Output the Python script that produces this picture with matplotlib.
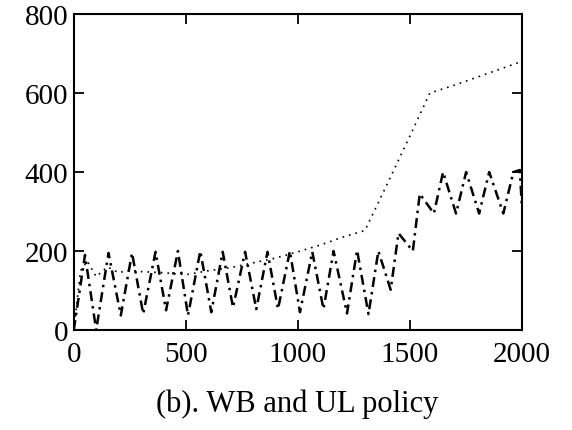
import matplotlib.pyplot as plt

# queue length under the WB and UL policy
wb_x = [0, 50, 100, 155, 210, 260, 310, 365, 412, 465, 510, 565, 614, 665, 711, 765,
        815, 865, 912, 965, 1010, 1065, 1115, 1160, 1220, 1265, 1316, 1360, 1415,
        1450, 1514, 1545, 1608, 1649, 1707, 1752, 1810, 1855, 1918, 1963, 1992, 2000]
wb_y = [0, 190, 0, 195, 37, 195, 41, 198, 50, 200, 37, 200, 45, 198, 57, 198,
        53, 198, 53, 200, 45, 198, 53, 200, 42, 202, 40, 200, 102,
        245, 200, 345, 295, 400, 295, 400, 295, 400, 295, 400, 405, 320]

ul_x = [0, 30, 60, 100, 150, 200, 250, 300, 400, 500, 600, 700, 800, 900, 1000,
        1100, 1200, 1300, 1400, 1500, 1590, 1700, 1800, 1900, 2000]
ul_y = [0, 150, 175, 135, 160, 145, 152, 148, 145, 140, 150, 158, 170, 182, 198,
        215, 235, 252, 370, 490, 600, 620, 640, 660, 680]

plt.rcParams["font.family"] = ["Liberation Serif", "DejaVu Serif"]

fig = plt.figure(figsize=(5.72, 4.31), dpi=100)
ax = fig.add_axes([0.129, 0.232, 0.783, 0.733])

ax.plot(wb_x, wb_y, color="black", lw=1.8, linestyle=(0, (4, 2, 1, 2)))
ax.plot(ul_x, ul_y, color="black", lw=1.2, linestyle=(0, (1, 3)))

ax.set_xlim(0, 2000)
ax.set_ylim(0, 800)
ax.set_xticks([0, 500, 1000, 1500, 2000])
ax.set_yticks([0, 200, 400, 600, 800])
ax.tick_params(direction="in", length=7, width=1.3, top=True, right=True,
               labelsize=21)
ax.tick_params(axis="x", pad=8)
ax.tick_params(axis="y", pad=4)
for s in ax.spines.values():
    s.set_linewidth(1.5)

fig.text(0.52, 0.063, "(b). WB and UL policy", ha="center", va="center", fontsize=22)

fig.savefig("out.png", dpi=100)
